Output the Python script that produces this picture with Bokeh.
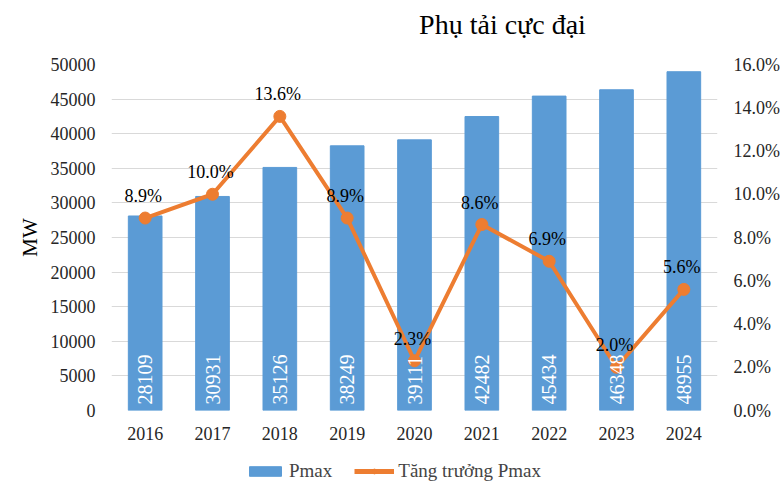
import math
from bokeh.plotting import figure
from bokeh.layouts import column
from bokeh.models import (ColumnDataSource, FactorRange, Range1d, LinearAxis, LabelSet, Label,
                          Legend, LegendItem, PrintfTickFormatter, SingleIntervalTicker)
from bokeh.embed import file_html
from bokeh.resources import INLINE

years = ["2016", "2017", "2018", "2019", "2020", "2021", "2022", "2023", "2024"]
pmax = [28109, 30931, 35126, 38249, 39111, 42482, 45434, 46348, 48955]
growth = [8.9, 10.0, 13.6, 8.9, 2.3, 8.6, 6.9, 2.0, 5.6]

FONT = "Liberation Serif"
BLUE = "#5B9BD5"
ORANGE = "#ED7D31"

source = ColumnDataSource(data=dict(
    year=years,
    pmax=pmax,
    pmax_txt=[str(v) for v in pmax],
    growth=growth,
    growth_txt=["%.1f%%" % g for g in growth],
))


def strip(h):
    # thin figure without axes, used for the title and the legend
    s = figure(x_range=Range1d(0, 1), y_range=Range1d(0, 1), frame_width=764, frame_height=h,
               min_border=0, output_backend="svg", toolbar_location=None)
    s.axis.visible = False
    s.grid.visible = False
    s.outline_line_color = None
    return s


top = strip(44)
top.add_layout(Label(x=391, y=20, x_units="screen", y_units="screen", text="Phụ tải cực đại",
                     text_align="center", text_baseline="middle", text_font=FONT,
                     text_font_size="28px", text_color="black"))

p = figure(x_range=FactorRange(*years), y_range=Range1d(0, 50000),
           frame_width=606, frame_height=346, output_backend="svg", toolbar_location=None,
           min_border_left=111, min_border_right=47, min_border_top=20, min_border_bottom=40)
p.extra_y_ranges = {"pct": Range1d(0, 16)}
p.outline_line_color = None

bars = p.vbar(x="year", top="pmax", width=0.5, source=source, color=BLUE)
p.line(x="year", y="growth", source=source, y_range_name="pct",
       line_color=ORANGE, line_width=4)
p.scatter(x="year", y="growth", source=source, y_range_name="pct",
          size=12, fill_color=ORANGE, line_color=ORANGE)

bar_labels = LabelSet(x="year", y=0, text="pmax_txt", source=source, angle=math.pi / 2,
                      y_offset=6, text_align="left", text_baseline="middle",
                      text_color="white", text_font=FONT, text_font_size="20px")
p.add_layout(bar_labels)

pct_labels = LabelSet(x="year", y="growth", text="growth_txt", source=source,
                      y_range_name="pct", y_offset=12, x_offset=-2, text_align="center",
                      text_baseline="bottom", text_color="black",
                      text_font=FONT, text_font_size="18px")
p.add_layout(pct_labels)

p.xgrid.grid_line_color = None
p.ygrid.grid_line_color = "#D9D9D9"
p.ygrid.ticker = SingleIntervalTicker(interval=5000)

left = p.yaxis[0]
left.ticker = SingleIntervalTicker(interval=5000)
left.axis_label = "MW"
left.axis_label_text_font = FONT
left.axis_label_text_font_size = "21px"
left.axis_label_text_font_style = "normal"
left.axis_label_text_color = "#000000"
left.axis_label_standoff = 6

right = LinearAxis(y_range_name="pct", ticker=SingleIntervalTicker(interval=2),
                   formatter=PrintfTickFormatter(format="%.1f%%"))
p.add_layout(right, "right")

for ax in [left, right, p.xaxis[0]]:
    ax.axis_line_color = None
    ax.major_tick_line_color = None
    ax.minor_tick_line_color = None
    ax.major_label_text_font = FONT
    ax.major_label_text_font_size = "18px"
    ax.major_label_text_color = "#262626"
    ax.major_label_standoff = 10

lg = strip(40)
# proxies for the legend, placed outside the strip's range
lg_bar = lg.vbar(x=[2], top=[2], width=0.5, color=BLUE)
lg_line = lg.line(x=[2, 3], y=[2, 2], line_color=ORANGE, line_width=5)
lg_dot = lg.scatter(x=[2], y=[2], size=12, fill_color=ORANGE, line_color=ORANGE)

legend = Legend(items=[LegendItem(label="Pmax", renderers=[lg_bar]),
                       LegendItem(label="Tăng trưởng Pmax", renderers=[lg_line, lg_dot])],
                orientation="horizontal", location=(245, 8),
                label_text_font=FONT, label_text_font_size="19px",
                border_line_color=None, glyph_width=40, glyph_height=12, spacing=22,
                label_standoff=4, background_fill_alpha=0, padding=5, margin=0)
lg.add_layout(legend, "center")

open("out.html", "w").write(file_html(column(top, p, lg), INLINE))
